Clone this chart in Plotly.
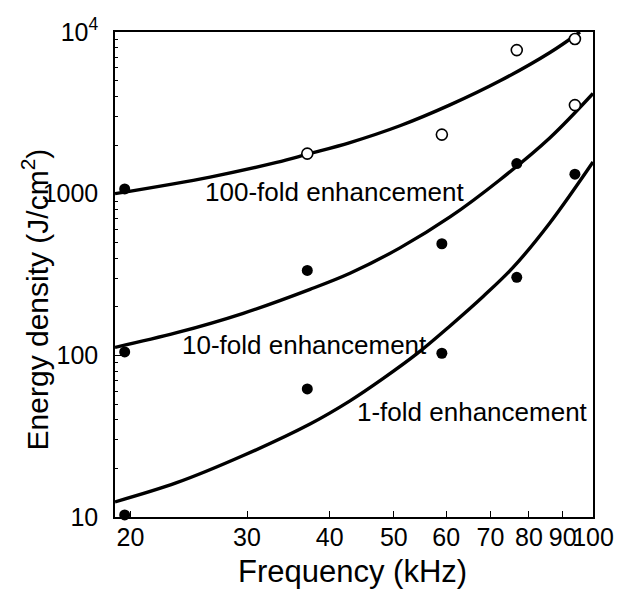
import plotly.graph_objects as go

# ---- data ----
filled_x = [19.6, 19.6, 19.6, 37.0, 37.0, 59.1, 59.1, 76.7, 76.7, 93.9]
filled_y = [1070, 105, 10.3, 335, 62, 490, 103, 1535, 304, 1320]

open_x = [37.0, 59.1, 76.7, 93.9, 93.9]
open_y = [1770, 2320, 7730, 9050, 3530]

c100_x = [18.95, 26.38, 33.26, 37.13, 42.93, 51.08, 60.8, 72.36, 86.1, 95.57]
c100_y = [1000, 1267, 1560, 1760, 2070, 2630, 3540, 4990, 7470, 10000]

c10_x = [18.95, 23.49, 29.61, 37.35, 42.93, 51.08, 60.8, 72.36, 86.1, 100]
c10_y = [112, 138, 182, 256, 322, 462, 718, 1220, 2220, 4170]

c1_x = [18.95, 23.49, 29.61, 37.35, 42.93, 48.2, 54.14, 60.8, 68.29, 75.78, 86.1, 100]
c1_y = [12.4, 16.3, 24.0, 37.6, 52.3, 72.0, 102, 152, 232, 351, 661, 1570]

x_ticks = [20, 30, 40, 50, 60, 70, 80, 90, 100]
x_ticktext = ["20", "30", "40", "50", "60", "70", "80", "90", "100"]
y_ticks = [10, 100, 1000, 10000]
y_ticktext = ["10", "100", "1000", "10<sup>4</sup>"]
y_minor = [m * d for d in (10, 100, 1000) for m in range(2, 10)]

labels = ["100-fold enhancement", "10-fold enhancement", "1-fold enhancement"]

FONT = "Liberation Sans, Arial, Helvetica, sans-serif"

fig = go.Figure()
for cx, cy in ((c100_x, c100_y), (c10_x, c10_y), (c1_x, c1_y)):
    fig.add_trace(go.Scatter(x=cx, y=cy, mode="lines",
                             line=dict(color="black", width=3.4, shape="spline", smoothing=1.0),
                             showlegend=False, hoverinfo="skip"))
fig.add_trace(go.Scatter(x=filled_x, y=filled_y, mode="markers",
                         marker=dict(symbol="circle", size=11, color="black",
                                     line=dict(width=0)),
                         showlegend=False, cliponaxis=False))
fig.add_trace(go.Scatter(x=open_x, y=open_y, mode="markers",
                         marker=dict(symbol="circle", size=11, color="white",
                                     line=dict(width=1.6, color="black")),
                         showlegend=False, cliponaxis=False))

ann_pos = [(0.184, 0.670), (0.136, 0.3546), (0.502, 0.217)]
for txt, (ax, ay) in zip(labels, ann_pos):
    fig.add_annotation(text=txt, x=ax, y=ay, xref="paper", yref="paper",
                       xanchor="left", yanchor="middle", showarrow=False,
                       font=dict(family=FONT, size=26, color="black"))

fig.add_annotation(text="Frequency (kHz)", x=0.497, y=-0.113, xref="paper", yref="paper",
                   xanchor="center", yanchor="middle", showarrow=False,
                   font=dict(family=FONT, size=31, color="black"))
fig.add_annotation(text="Energy density (J/cm<sup>2</sup>)", x=-0.167, y=0.449,
                   xref="paper", yref="paper", textangle=-90,
                   xanchor="center", yanchor="middle", showarrow=False,
                   font=dict(family=FONT, size=30, color="black"))

fig.update_layout(
    width=627, height=589,
    margin=dict(l=115, r=34, t=32, b=72),
    paper_bgcolor="white", plot_bgcolor="white",
    font=dict(family=FONT, color="black"),
    showlegend=False,
)
fig.update_xaxes(type="log", range=[1.2776, 2.0],
                 tickvals=x_ticks, ticktext=x_ticktext, tickangle=0,
                 ticks="inside", ticklen=6, tickwidth=1.2, tickcolor="black",
                 ticklabelstandoff=-3,
                 tickfont=dict(family=FONT, size=25, color="black"),
                 showline=True, linecolor="black", linewidth=1.5, mirror=True,
                 showgrid=False, zeroline=False)
fig.update_yaxes(type="log", range=[1, 4],
                 tickvals=y_ticks, ticktext=y_ticktext,
                 ticks="inside", ticklen=6, tickwidth=1.2, tickcolor="black",
                 ticklabelstandoff=10,
                 minor=dict(tickvals=y_minor, ticks="inside", ticklen=3,
                            tickwidth=1, tickcolor="black", showgrid=False),
                 tickfont=dict(family=FONT, size=25, color="black"),
                 showline=True, linecolor="black", linewidth=1.5, mirror=True,
                 showgrid=False, zeroline=False)

fig.write_html("out.html")
